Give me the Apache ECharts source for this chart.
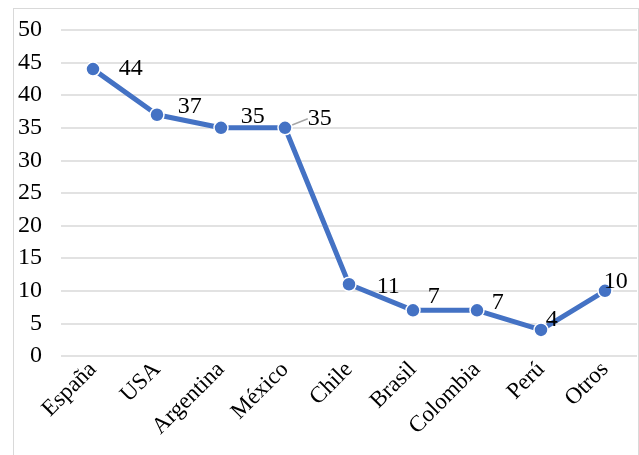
<!DOCTYPE html>
<html><head><meta charset="utf-8">
<script src="https://cdn.jsdelivr.net/npm/echarts@6/dist/echarts.min.js"></script>
<style>html,body{margin:0;padding:0;background:#fff;overflow:hidden}#c{width:639px;height:455px}
#frame{position:absolute;left:13px;top:8px;width:626px;height:470px;border:1px solid #d9d9d9;box-sizing:border-box;pointer-events:none}</style>
</head><body><div id="c"></div><div id="frame"></div>
<script>
const categories = ['España','USA','Argentina','México','Chile','Brasil','Colombia','Perú','Otros'];
const values = [44,37,35,35,11,7,7,4,10];
const yTicks = {min:0, max:50, interval:5};
const labelShift = [[14,0],[9,-8],[8,-11],[11,-9],[16,2],[3,-14],[3,-8],[-7,-10],[-13,-9]];
const font = '"Liberation Serif","Times New Roman",serif';
const chart = echarts.init(document.getElementById('c'));
chart.setOption({
  animation:false,
  grid:{left:61,right:2,top:30,bottom:99},
  xAxis:{type:'category',data:categories,boundaryGap:true,
    axisLine:{show:false},axisTick:{show:false},
    axisLabel:{rotate:45,fontFamily:font,fontSize:23,color:'#000',margin:10,interval:0}},
  yAxis:{type:'value',min:yTicks.min,max:yTicks.max,interval:yTicks.interval,
    axisLine:{show:false},axisTick:{show:false},
    splitLine:{lineStyle:{color:'#d9d9d9',width:1.5}},
    axisLabel:{fontFamily:font,fontSize:24,color:'#000',margin:19}},
  series:[{type:'line',data:values.map((v,i)=>i===3?{value:v,labelLine:{show:true}}:v),
    lineStyle:{color:'#4472C4',width:5},
    itemStyle:{color:'#4472C4',borderColor:'#fff',borderWidth:1.5},
    symbol:'circle',symbolSize:14,
    label:{show:true,position:'right',distance:4,fontFamily:font,fontSize:24,color:'#000'},
    labelLine:{show:false,lineStyle:{color:'#a6a6a6',width:1.5}},
    labelLayout:function(p){const s=labelShift[p.dataIndex];return {dx:s[0],dy:s[1]};}
  }]
});
</script></body></html>
